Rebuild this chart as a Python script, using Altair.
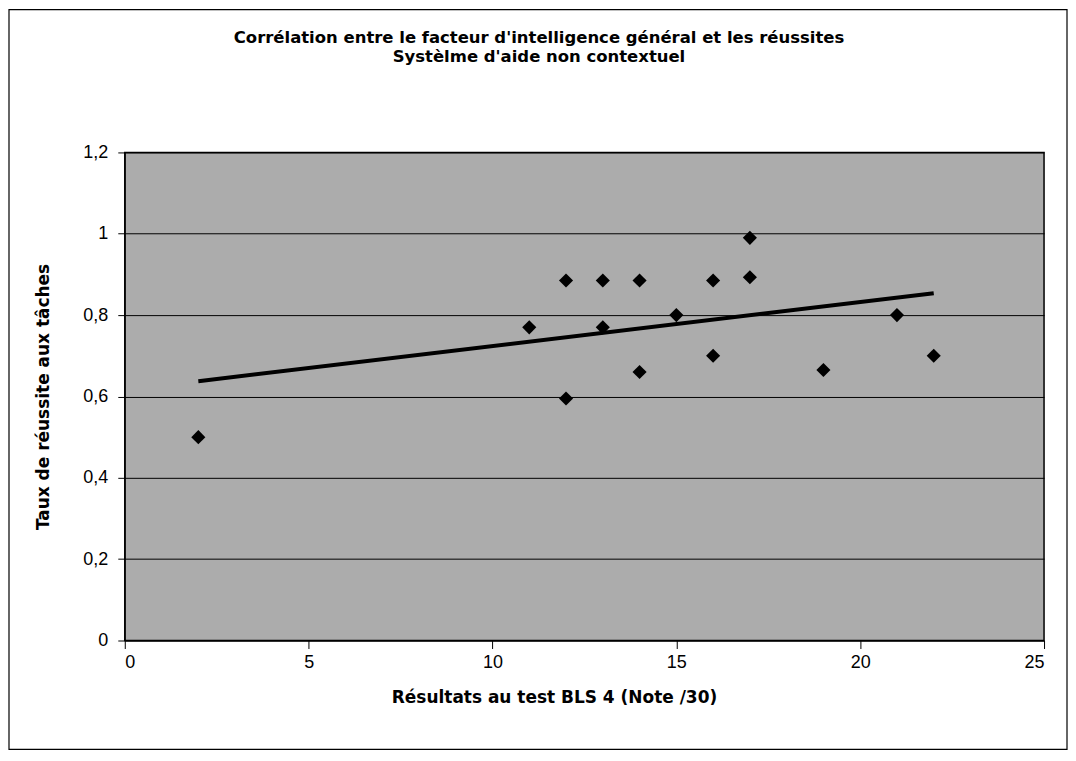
import altair as alt
import pandas as pd

# Data
bls_scores = [2, 11, 12, 12, 13, 13, 14, 14, 15, 16, 16, 17, 17, 19, 21, 22]
success_rates = [0.5, 0.77, 0.885, 0.595, 0.885, 0.77, 0.885, 0.66, 0.8, 0.885, 0.7, 0.99, 0.893, 0.665, 0.8, 0.7]
x_ticks = [0, 5, 10, 15, 20, 25]
y_ticks = [0, 0.2, 0.4, 0.6, 0.8, 1.0, 1.2]
title_lines = [
    "Corrélation entre le facteur d'intelligence général et les réussites",
    "Systèlme d'aide non contextuel",
]
x_title = "Résultats au test BLS 4 (Note /30)"
y_title = "Taux de réussite aux tâches"

df = pd.DataFrame({"x": bls_scores, "y": success_rates})

FONT = "Liberation Sans"
BFONT = "DejaVu Sans"
W, H = 921, 489

x_enc = alt.X(
    "x:Q",
    scale=alt.Scale(domain=[0, 25], nice=False, zero=False),
    axis=alt.Axis(
        values=x_ticks,
        title=x_title,
        grid=False,
        domainColor="black",
        tickColor="black",
        tickSize=8,
        labelPadding=5,
        labelFontSize=18,
        labelFont=FONT,
        labelColor="black",
        titleFont=BFONT,
        titleFontSize=17,
        titleFontWeight="bold",
        titleColor="black",
        titleX=430,
        titleY=62,
        titleBaseline="alphabetic",
    ),
)
y_enc = alt.Y(
    "y:Q",
    scale=alt.Scale(domain=[0, 1.2], nice=False, zero=False),
    axis=alt.Axis(
        values=y_ticks,
        title=y_title,
        grid=True,
        gridColor="black",
        gridWidth=1,
        gridOpacity=1,
        domainColor="black",
        tickColor="black",
        tickSize=7,
        labelPadding=10,
        labelFontSize=18,
        labelFont=FONT,
        labelColor="black",
        labelExpr="replace(format(datum.value, '.1~f'), '.', ',')",
        titleFont=BFONT,
        titleFontSize=17,
        titleFontWeight="bold",
        titleColor="black",
        titleX=-76,
        titleY=H / 2,
        titleAlign="center",
        titleBaseline="alphabetic",
    ),
)

points = alt.Chart(df).mark_point(
    shape="diamond", filled=True, color="black", size=200, opacity=1
).encode(x=x_enc, y=y_enc)

trend = (
    alt.Chart(df)
    .transform_regression("x", "y", method="linear")
    .mark_line(color="black", strokeWidth=4)
    .encode(x="x:Q", y="y:Q")
)

frame = alt.Chart(pd.DataFrame({"k": [0]})).mark_rect(
    filled=False, stroke="black", strokeWidth=1.2, clip=False
).encode(
    x=alt.value(-116), x2=alt.value(W + 23),
    y=alt.value(-143), y2=alt.value(H + 109),
)

def title_line(text, ypos):
    return alt.Chart(pd.DataFrame({"t": [text]})).mark_text(
        font=BFONT, fontSize=16.5, fontWeight="bold", color="black",
        align="center", baseline="middle", clip=False,
    ).encode(text="t:N", x=alt.value(415), y=alt.value(ypos))

chart = (
    alt.layer(
        trend, points, frame,
        title_line(title_lines[0], -115),
        title_line(title_lines[1], -96),
    )
    .properties(
        width=W,
        height=H,
        padding={"left": 117, "top": 144, "right": 24, "bottom": 111},
        autosize=alt.AutoSizeParams(type="none"),
        background="white",
    )
    .configure_view(fill="#acacac", stroke="black", strokeWidth=1.5)
)

chart.save("out.html", embed_options={"renderer": "svg", "actions": False})
